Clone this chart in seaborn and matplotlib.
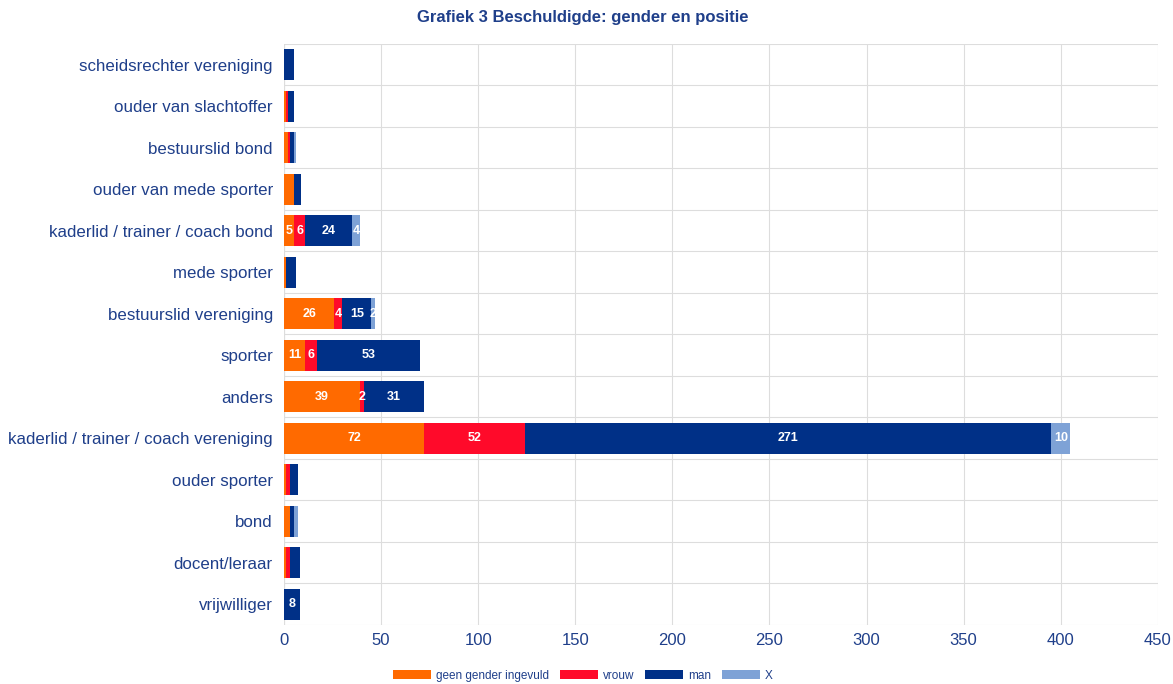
import pandas as pd
import numpy as np
import matplotlib.pyplot as plt
import seaborn as sns
from matplotlib.patches import Patch

### DATA ###
positions = ["scheidsrechter vereniging", "ouder van slachtoffer", "bestuurslid bond",
             "ouder van mede sporter", "kaderlid / trainer / coach bond", "mede sporter",
             "bestuurslid vereniging", "sporter", "anders",
             "kaderlid / trainer / coach vereniging", "ouder sporter", "bond",
             "docent/leraar", "vrijwilliger"]
geen_gender = [0, 1, 2, 5, 5, 1, 26, 11, 39, 72, 1, 3, 1, 0]
vrouw = [0, 1, 1, 0, 6, 0, 4, 6, 2, 52, 2, 0, 2, 0]
man = [5, 3, 2, 4, 24, 5, 15, 53, 31, 271, 4, 2, 5, 8]
x_onbekend = [0, 0, 1, 0, 4, 0, 2, 0, 0, 10, 0, 2, 0, 0]
series_names = ["geen gender ingevuld", "vrouw", "man", "X"]
# rows where the chart prints the segment values
labelled_rows = ["kaderlid / trainer / coach bond", "bestuurslid vereniging", "sporter",
                 "anders", "kaderlid / trainer / coach vereniging", "vrijwilliger"]

colors = ["#ff6a00", "#ff0a2a", "#003087", "#7ea2d6"]
text_blue = "#1f3f8a"

### BUILD DATAFRAME ###
df = pd.DataFrame({"positie": positions, series_names[0]: geen_gender, series_names[1]: vrouw,
                   series_names[2]: man, series_names[3]: x_onbekend})
cum = df[series_names].cumsum(axis=1)

### PLOT ###
sns.set_theme(style="white")
plt.rcParams['font.family'] = ['Liberation Sans', 'DejaVu Sans']
fig = plt.figure(figsize=(11.73, 6.84), dpi=100)
ax = fig.add_axes([0.2421, 0.0863, 0.745, 0.8494])

# stacked bars: draw cumulative totals from the back to the front
for i in reversed(range(len(series_names))):
    sns.barplot(x=cum[series_names[i]], y=df["positie"], orient="h", color=colors[i],
                width=0.74, saturation=1, ax=ax, order=positions,
                edgecolor="none", linewidth=0)

# segment labels
for r, pos in enumerate(positions):
    if pos not in labelled_rows:
        continue
    left = 0
    for name in series_names:
        v = df.loc[r, name]
        if v > 0:
            ax.text(left + v / 2, r, str(v), ha="center", va="center", color="white",
                    fontsize=9, fontweight="bold")
        left += v

ax.set_xlim(0, 450)
ax.set_ylim(len(positions) - 0.5, -0.5)
ax.set_xticks(np.arange(0, 451, 50))
ax.set_yticks(np.arange(-0.5, len(positions), 1), minor=True)
ax.grid(True, axis="x", color="#dddddd", linewidth=0.8)
ax.grid(True, axis="y", which="minor", color="#dddddd", linewidth=0.8)
ax.set_axisbelow(True)
for s in ax.spines.values():
    s.set_visible(False)
ax.axvline(0, color="#cccccc", linewidth=0.8, zorder=0)
ax.tick_params(axis="both", which="both", length=0, labelcolor=text_blue)
ax.tick_params(axis="y", labelsize=12.2, pad=8)
ax.tick_params(axis="x", labelsize=12, pad=6)
ax.set_xlabel("")
ax.set_ylabel("")

fig.suptitle("Grafiek 3 Beschuldigde: gender en positie", x=0.497, y=0.985,
             fontsize=12, fontweight="bold", color=text_blue)

handles = [Patch(facecolor=c, edgecolor="none", label=n) for c, n in zip(colors, series_names)]
leg = fig.legend(handles=handles, loc="lower center", bbox_to_anchor=(0.497, -0.012), ncol=4,
                 frameon=False, fontsize=8.5, handlelength=3.2, handleheight=0.9,
                 columnspacing=0.9, handletextpad=0.45)
for t in leg.get_texts():
    t.set_color(text_blue)

fig.savefig("out.png", dpi=100)
